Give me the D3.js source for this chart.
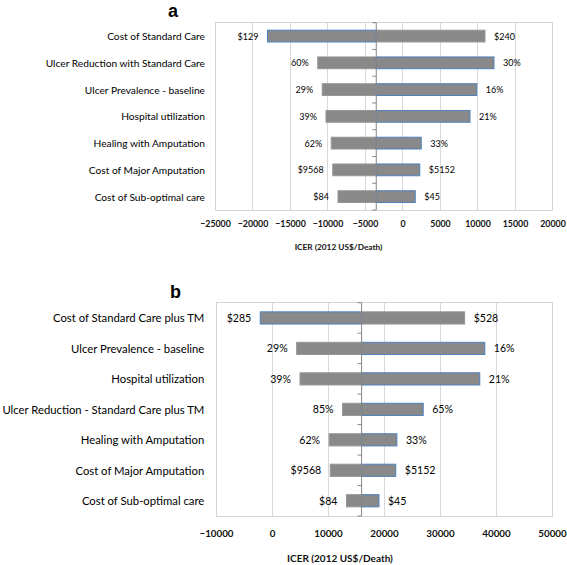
<!DOCTYPE html>
<html><head><meta charset="utf-8">
<script src="https://cdn.jsdelivr.net/npm/d3@7/dist/d3.min.js"></script>
<style>body{margin:0;background:#fff}svg{display:block}</style>
</head><body>
<svg id="chart" width="567" height="565"></svg>
<script>
// ---------- Panel a ----------
const categoriesA = ["Cost of Standard Care","Ulcer Reduction with Standard Care","Ulcer Prevalence - baseline","Hospital utilization","Healing with Amputation","Cost of Major Amputation","Cost of Sub-optimal care"];
const lowInputA  = [-18000, 12200, 9900, 9000, 2500, 2300, 1700];      // blue-outlined series
const highInputA = [11000, -11300, -10700, -10200, -9500, -9300, -8600];
const lowLabelsA  = ["$129","30%","16%","21%","33%","$5152","$45"];
const highLabelsA = ["$240","60%","29%","39%","62%","$9568","$84"];
const baseA = -3500;
const ticksA = [-25000,-20000,-15000,-10000,-5000,0,5000,10000,15000,20000];

// ---------- Panel b ----------
const categoriesB = ["Cost of Standard Care plus TM","Ulcer Prevalence - baseline","Hospital utilization","Ulcer Reduction - Standard Care plus TM","Healing with Amputation","Cost of Major Amputation","Cost of Sub-optimal care"];
const lowInputB  = [-2100, 38000, 37100, 27000, 22300, 22100, 19100];
const highInputB = [34400, 4400, 5000, 12600, 10200, 10400, 13300];
const lowLabelsB  = ["$285","16%","21%","65%","33%","$5152","$45"];
const highLabelsB = ["$528","29%","39%","85%","62%","$9568","$84"];
const baseB = 16000;
const ticksB = [-10000,0,10000,20000,30000,40000,50000];

const axisTitle = "ICER (2012 US$/Death)";
const FONT = "Lato, 'Open Sans', sans-serif";
const svg = d3.select("#chart");

function panel(o){
  const g = svg.append("g");
  const x = d3.scaleLinear().domain([o.ticks[0], o.ticks[o.ticks.length-1]]).range([o.left, o.right]);
  const y = d3.scaleBand().domain(o.cats).range([o.top, o.bottom]).paddingInner(o.pad).paddingOuter(o.pad/2);

  // gridlines
  g.append("g").selectAll("line").data(o.ticks).join("line")
    .attr("x1", d=>x(d)).attr("x2", d=>x(d)).attr("y1", o.top).attr("y2", o.bottom)
    .attr("stroke", "#d9d9d9").attr("stroke-width", 1).attr("shape-rendering","crispEdges");
  // plot border
  g.append("rect").attr("x", o.left).attr("y", o.top).attr("width", o.right-o.left).attr("height", o.bottom-o.top)
    .attr("fill","none").attr("stroke","#d4d4d4").attr("shape-rendering","crispEdges");

  const rows = o.cats.map((c,i)=>({c, lo:o.lo[i], hi:o.hi[i], loL:o.loL[i], hiL:o.hiL[i]}));
  const bx = x(o.base);
  const bar = (sel, key, stroke) => sel.append("g").selectAll("rect").data(rows).join("rect")
    .attr("x", d=>Math.min(x(d[key]), bx)).attr("width", d=>Math.abs(x(d[key])-bx))
    .attr("y", d=>y(d.c)).attr("height", y.bandwidth())
    .attr("fill", "#898989").attr("stroke", stroke).attr("stroke-width", 1);
  bar(g, "hi", "#969696");
  bar(g, "lo", "#4f81bd");

  // value labels
  const lab = (key, lkey) => g.append("g").selectAll("text").data(rows).join("text")
    .attr("x", d=> x(d[key]) < bx ? x(d[key]) - o.gap : x(d[key]) + o.gap)
    .attr("y", d=>y(d.c)+y.bandwidth()/2)
    .attr("text-anchor", d=> x(d[key]) < bx ? "end" : "start")
    .attr("dominant-baseline","central")
    .style("font-family", FONT).style("font-size", o.valSize+"px").attr("fill","#000")
    .text(d=>d[lkey]);
  lab("hi","hiL"); lab("lo","loL");

  // vertical axis at base case
  g.append("line").attr("x1", bx).attr("x2", bx).attr("y1", o.top).attr("y2", o.bottom)
    .attr("stroke","#868686").attr("stroke-width",1);
  g.append("g").selectAll("line").data(d3.range(o.cats.length+1)).join("line")
    .attr("x1", bx-4).attr("x2", bx).attr("y1", i=>o.top + i*y.step()).attr("y2", i=>o.top + i*y.step())
    .attr("stroke","#868686").attr("stroke-width",1);

  // category labels
  g.append("g").selectAll("text").data(o.cats).join("text")
    .attr("x", o.catX).attr("y", d=>y(d)+y.bandwidth()/2)
    .attr("text-anchor","end").attr("dominant-baseline","central")
    .style("font-family", FONT).style("font-size", o.catSize+"px").attr("fill","#000")
    .text(d=>d);

  // x axis tick labels
  const ax = g.append("g").attr("transform", `translate(0,${o.tickY})`)
    .call(d3.axisBottom(x).tickValues(o.ticks).tickSize(0).tickPadding(0).tickFormat(d3.format("d")));
  ax.select(".domain").remove();
  ax.selectAll("text").attr("dy", null).attr("y", 0).attr("dominant-baseline","central")
    .style("font-family", FONT).style("font-weight","bold").style("font-size", o.tickSize+"px").attr("fill","#111");

  // axis title
  g.append("text").attr("x", o.titleX).attr("y", o.titleY).attr("text-anchor","middle").attr("dominant-baseline","central")
    .style("font-family", FONT).style("font-weight","bold").style("font-size", o.axTitleSize+"px").attr("fill","#111")
    .text(axisTitle);

  // panel letter
  g.append("text").attr("x", o.letterX).attr("y", o.letterY)
    .style("font-family","'Liberation Sans', Arial, sans-serif").style("font-weight","bold").style("font-size","18px")
    .attr("fill","#000").text(o.letter);
}

panel({cats:categoriesA, lo:lowInputA, hi:highInputA, loL:lowLabelsA, hiL:highLabelsA, base:baseA, ticks:ticksA,
  left:215, right:552.5, top:22.7, bottom:210, pad:0.56, gap:9, valSize:9, catSize:10.2, catX:205,
  tickY:223.3, tickSize:8.8, titleX:338.5, titleY:246.7, axTitleSize:8.3, letter:"a", letterX:168, letterY:17});
panel({cats:categoriesB, lo:lowInputB, hi:highInputB, loL:lowLabelsB, hiL:highLabelsB, base:baseB, ticks:ticksB,
  left:216, right:552, top:302.7, bottom:516, pad:0.6, gap:9, valSize:10.6, catSize:11.3, catX:204.3,
  tickY:532.7, tickSize:9.8, titleX:340, titleY:558.3, axTitleSize:10, letter:"b", letterX:170, letterY:298});
</script>
</body></html>
